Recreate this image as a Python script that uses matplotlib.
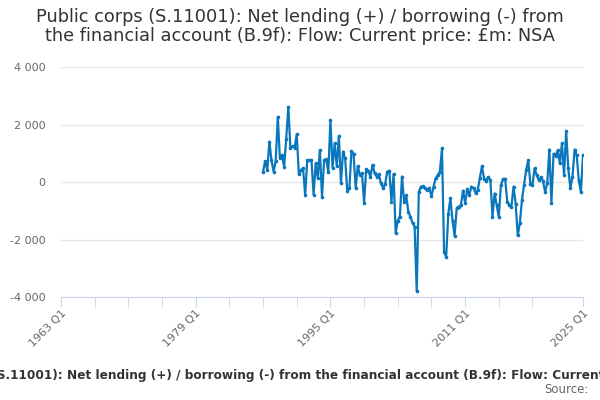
import numpy as np
import matplotlib
matplotlib.use("Agg")
import matplotlib.pyplot as plt
from matplotlib.ticker import FixedLocator, FuncFormatter

title = ("Public corps (S.11001): Net lending (+) / borrowing (-) from\n"
         "the financial account (B.9f): Flow: Current price: £m: NSA")
series_name = ("Public corps (S.11001): Net lending (+) / borrowing (-) from the "
               "financial account (B.9f): Flow: Current price: £m: NSA")

start_year = 1987  # first quarter is 1987 Q1, quarterly to 2025 Q1
values = [
    360, 730, 420, 1400, 760, 360, 730, 2270, 820, 935,
    530, 1510, 2610, 1170, 1250, 1200, 1660, 270, 420, 470,
    -450, 760, 760, 760, -440, 650, 130, 1110, -530, 760,
    790, 340, 2150, 500, 1340, 560, 1600, -30, 1060, 820,
    -320, -220, 1080, 980, -220, 560, 240, 300, -720, 440,
    380, 190, 600, 300, 190, 270, -50, -200, -70, 360,
    390, -680, 280, -1780, -1340, -1200, 190, -680, -450, -1030,
    -1200, -1430, -1550, -3800, -340, -160, -140, -220, -280, -220,
    -500, -160, 130, 240, 360, 1170, -2440, -2600, -1110, -565,
    -1340, -1870, -910, -855, -800, -300, -720, -260, -450, -160,
    -220, -390, -280, 150, 550, 115, 35, 170, 55, -1200,
    -400, -800, -1220, -100, 100, 115, -680, -800, -855, -160,
    -760, -1860, -1430, -620, -100, 420, 760, -70, -100, 470,
    240, 55, 170, 35, -350, -45, 1130, -720, 980, 900,
    1110, 650, 1340, 240, 1770, 470, -220, 185, 1130, 935,
    55, -350, 935,
]

major_years = [1963, 1979, 1995, 2011, 2025]
minor_years = list(range(1963, 2020, 4)) + [2025]
y_ticks = [-4000, -2000, 0, 2000, 4000]

x = start_year + np.arange(len(values)) / 4.0

fig = plt.figure(figsize=(6, 4), dpi=100)
ax = fig.add_axes([61 / 600, 1 - 297 / 400, 522 / 600, 230 / 400])

ax.plot(x, values, color="#0a77bd", lw=1.6, marker="o", ms=2.6,
        markeredgewidth=0, zorder=3)

ax.set_xlim(1963, 2025)
ax.set_ylim(-4000, 4000)

ax.yaxis.set_major_locator(FixedLocator(y_ticks))
ax.yaxis.set_major_formatter(FuncFormatter(
    lambda v, p: "{:,}".format(int(v)).replace(",", " ")))
ax.grid(axis="y", color="#e6e6e6", lw=1)
ax.set_axisbelow(True)

ax.xaxis.set_major_locator(FixedLocator(major_years))
ax.xaxis.set_minor_locator(FixedLocator(minor_years))
ax.set_xticklabels([f"{y} Q1" for y in major_years], rotation=45,
                   ha="right", va="top", rotation_mode="anchor")

for s in ["left", "right", "top"]:
    ax.spines[s].set_visible(False)
ax.spines["bottom"].set_color("#ccd6eb")
ax.tick_params(axis="y", length=0, labelsize=8, labelcolor="#666666", pad=11)
ax.tick_params(axis="x", which="both", length=7, color="#ccd6eb",
               labelsize=8, labelcolor="#666666", pad=1)

fig.text(0.5, 1 - 8 / 400, title, ha="center", va="top", fontsize=12.8,
         color="#333333", linespacing=1.1)
# legend entry is wider than the figure, so it is clipped at both sides
fig.text(307 / 600, 1 - 375 / 400, series_name, ha="center", va="center",
         fontsize=8.7, fontweight="bold", color="#333333")
fig.text(589 / 600, 1 - 396 / 400, "Source:", ha="right", va="bottom",
         fontsize=8.5, color="#666666")

fig.savefig("out.png", dpi=100)
